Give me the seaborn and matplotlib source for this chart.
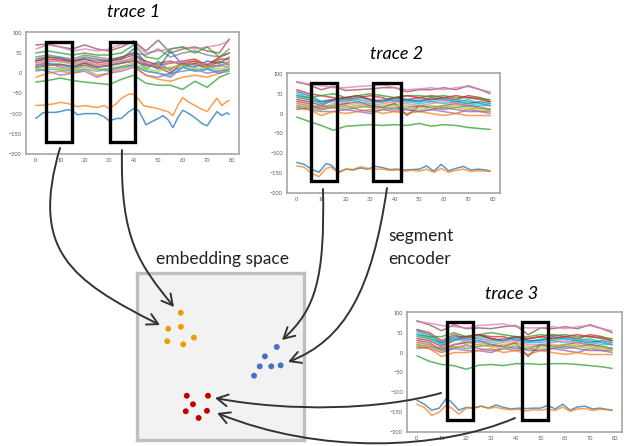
import numpy as np
import pandas as pd
import seaborn as sns
import matplotlib.pyplot as plt
from matplotlib.patches import Rectangle, FancyArrowPatch
from matplotlib.path import Path

sns.set_theme(style="white")
plt.rcParams['font.family'] = ['Lato', 'DejaVu Sans']

W, H = 624, 446

# ---------------- data ----------------
x_ticks = [0, 10, 20, 30, 40, 50, 60, 70, 80]
y_ticks = [-200, -150, -100, -50, 0, 50, 100]

# coarse x grid for the dense cluster lines
x_coarse = [0, 5, 10, 15, 20, 25, 30, 35, 40, 45, 50, 55, 60, 65, 70, 75, 79]

# ---- trace 1 ----
t1_x_low = [0, 3, 5, 8, 10, 13, 15, 17, 20, 25, 28, 30, 33, 35, 38, 40, 42, 44, 45, 48,
            50, 52, 54, 56, 58, 60, 62, 65, 68, 70, 72, 74, 76, 78, 79]
t1_blue = [-112, -98, -97, -97, -95, -90, -93, -103, -100, -100, -108, -118, -112, -112, -95,
           -88, -92, -115, -128, -118, -112, -105, -115, -135, -110, -92, -98, -110, -125,
           -130, -112, -95, -105, -98, -102]
t1_orange = [-80, -79, -78, -75, -72, -75, -78, -83, -80, -85, -80, -88, -75, -62, -52,
             -52, -65, -80, -82, -85, -88, -92, -95, -105, -80, -60, -70, -80, -90, -95,
             -78, -62, -80, -70, -68]
t1_green = [-22, -18, -12, -18, -22, -25, -28, -15, -5, -25, -30, -30, -40, -20, -35, -10, 0]
t1_cluster = [
    [30, 35, 32, 28, 35, 25, 30, 35, 45, 30, 20, 25, 30, 35, 20, 40, 50],
    [10, 5, -5, 0, 5, -10, 0, 5, 15, -5, -10, 0, 5, 10, 0, 5, 10],
    [70, 72, 65, 60, 70, 60, 55, 65, 80, 55, 82, 50, 60, 65, 55, 50, 85],
    [60, 70, 65, 55, 60, 55, 60, 72, 75, 50, 55, 60, 65, 60, 65, 70, 80],
    [40, 45, 40, 35, 45, 40, 35, 40, 50, 45, 60, 40, 50, 55, 45, 40, 60],
    [25, 30, 28, 22, 28, 20, 25, 30, 35, 15, 20, 10, 25, 30, 20, 25, 30],
    [20, 25, 22, 18, 25, 15, 20, 25, 40, 10, 30, 5, 15, 25, 10, 20, 25],
    [35, 40, 38, 30, 35, 30, 32, 35, 60, 25, 10, 55, 20, 15, 30, 25, 40],
    [-10, 0, 5, 0, 10, -5, 0, 10, 20, -5, -15, -20, -10, -5, -10, 0, 10],
    [50, 55, 50, 45, 50, 45, 45, 50, 70, 40, 35, 60, 65, 50, 65, 40, 50],
    [15, 20, 22, 15, 25, 15, 20, 25, 30, 20, 15, 0, 25, 30, 20, 35, 35],
    [20, 25, 15, 10, 20, 10, 5, 15, 20, 5, 0, -10, 15, 5, 10, 0, 5],
    [30, 40, 35, 30, 40, 35, 30, 40, 50, 20, 25, 30, 20, 25, 15, 30, 20],
    [25, 30, 30, 25, 30, 20, 25, 30, 35, 25, 15, 25, 30, 20, 25, 15, 30],
    [15, 20, 20, 15, 20, 15, 18, 25, 30, 20, 15, 10, 25, 20, 15, 20, 15],
    [10, 15, 12, 8, 15, 10, 12, 18, 25, 10, 5, 15, 20, 10, 15, 10, 15],
    [5, 10, 8, 5, 10, 5, 10, 15, 20, 5, 0, -5, 15, 5, 10, 5, 10],
]

# ---- trace 2 ----
x_fine = [0, 3, 6, 9, 12, 14, 17, 20, 23, 26, 29, 32, 35, 38, 41, 44, 47, 50, 53, 56,
          59, 62, 65, 68, 71, 74, 77, 79]
t2_blue = [-123, -128, -140, -148, -126, -130, -147, -140, -142, -137, -140, -133, -136,
           -141, -140, -142, -141, -140, -132, -145, -128, -144, -138, -133, -142, -140,
           -142, -145]
t2_orange = [-132, -135, -150, -159, -138, -135, -150, -140, -141, -134, -138, -140, -140,
             -143, -142, -145, -143, -145, -140, -148, -138, -148, -143, -140, -146, -144,
             -145, -145]
t2_green = [-9, -20, -30, -42, -32, -30, -28, -30, -28, -30, -25, -32, -28, -30, -35, -38, -40]
t2_cluster = [
    [60, 50, 45, 40, 35, 40, 45, 40, 30, 35, 40, 45, 40, 35, 45, 40, 30],
    [15, 10, 5, 5, 10, 5, 0, 10, 5, 10, 5, 10, 5, 0, 10, 5, 5],
    [80, 72, 60, 68, 58, 60, 62, 65, 65, 55, 60, 60, 65, 60, 70, 60, 50],
    [78, 75, 70, 65, 65, 68, 70, 72, 65, 60, 62, 65, 60, 65, 68, 60, 55],
    [40, 35, 30, 35, 40, 35, 30, 35, 40, 35, 30, 35, 40, 35, 30, 25, 20],
    [25, 20, 15, 20, 25, 20, 15, 20, 25, 20, 15, 20, 15, 20, 15, 10, 5],
    [50, 40, 25, 35, 30, 40, 35, 30, 35, 30, 35, 30, 25, 30, 35, 25, 20],
    [55, 45, 30, 35, 40, 45, 35, 30, 40, 35, 30, 40, 35, 30, 25, 30, 25],
    [15, 10, -5, 5, 0, 5, 10, 0, 5, 0, 5, 0, -5, 0, -5, -5, -5],
    [45, 40, 45, 50, 40, 45, 50, 45, 40, 45, 45, 42, 45, 40, 40, 38, 35],
    [35, 30, 20, 35, 40, 45, 35, 30, 40, 45, 40, 35, 40, 45, 40, 35, 30],
    [20, 15, 10, 15, 20, 10, 5, 10, 15, 10, 5, 10, 15, 10, 5, 5, 0],
    [30, 25, 10, 20, 25, 30, 20, 15, 25, -5, 20, 15, 20, 25, 20, 15, 10],
    [25, 20, 15, 25, 30, 25, 20, 25, 30, 25, 20, 25, 30, 25, 20, 15, 10],
    [10, 15, 20, 15, 10, 15, 20, 15, 10, 15, 20, 15, 10, 15, 20, 15, 10],
    [20, 15, 10, 20, 15, 20, 15, 10, 20, 15, 10, 15, 20, 15, 10, 15, 5],
    [45, 35, 25, 30, 35, 30, 25, 30, 35, 30, 25, 30, 35, 30, 25, 20, 20],
]

# ---- trace 3 ----
t3_blue = [-120, -130, -145, -140, -115, -125, -145, -138, -140, -135, -140, -132, -138,
           -142, -140, -141, -140, -140, -133, -142, -130, -145, -137, -135, -142, -140,
           -143, -145]
t3_orange = [-130, -138, -158, -150, -132, -140, -155, -140, -138, -135, -140, -138, -142,
             -144, -143, -147, -144, -145, -142, -146, -137, -148, -142, -141, -146, -143,
             -144, -145]
t3_green = [-8, -22, -30, -33, -42, -32, -30, -33, -28, -28, -30, -28, -28, -30, -33, -36, -40]
t3_cluster = [
    [58, 50, 30, 45, 35, 45, 40, 40, 30, 35, 40, 45, 40, 35, 45, 40, 30],
    [15, 10, 0, 10, 5, 5, 0, 10, 5, 10, 5, 10, 5, 0, 10, 5, 5],
    [80, 70, 55, 70, 60, 62, 60, 65, 68, 45, 62, 60, 65, 60, 70, 60, 50],
    [78, 74, 68, 65, 62, 68, 70, 72, 65, 62, 62, 65, 60, 65, 68, 60, 55],
    [40, 35, 25, 35, 40, 35, 30, 35, 40, 30, 30, 35, 40, 35, 30, 25, 20],
    [25, 20, 10, 20, 25, 20, 15, 20, 25, 15, 15, 20, 15, 20, 15, 10, 5],
    [50, 40, 20, 35, 30, 40, 35, 30, 35, 25, 35, 30, 25, 30, 35, 25, 20],
    [55, 45, 25, 40, 40, 45, 35, 30, 40, 30, 30, 40, 35, 30, 25, 30, 25],
    [15, 10, -10, 0, 0, 5, 10, 0, 5, -5, 5, 0, -5, 0, -5, -5, -5],
    [45, 40, 40, 50, 40, 45, 50, 45, 40, 40, 45, 42, 45, 40, 40, 38, 35],
    [35, 30, 15, 30, 40, 45, 35, 30, 40, 35, 40, 35, 40, 45, 40, 35, 30],
    [20, 15, 5, 10, 20, 10, 5, 10, 15, 5, 5, 10, 15, 10, 5, 5, 0],
    [30, 25, 5, 20, 25, 30, 20, 15, 25, -10, 20, 15, 20, 25, 20, 15, 10],
    [25, 20, 10, 20, 30, 25, 20, 25, 30, 20, 20, 25, 30, 25, 20, 15, 10],
    [10, 15, 10, 15, 10, 15, 20, 15, 10, 10, 20, 15, 10, 15, 20, 15, 10],
    [20, 15, 5, 15, 15, 20, 15, 10, 20, 10, 10, 15, 20, 15, 10, 15, 5],
    [45, 35, 20, 30, 35, 30, 25, 30, 35, 25, 25, 30, 35, 30, 25, 20, 20],
]

# segment windows (x0, x1) per trace, and vertical extent
t1_windows = [(4.1, 14.8), (30.4, 40.6)]
t2_windows = [(5.7, 16.6), (31.3, 42.6)]
t3_windows = [(12.1, 22.6), (42.4, 52.9)]
window_y = (-171, 78)

# embedding space points (0-100 box coordinates)
emb_orange_x = [26.2, 18.7, 26.3, 18.1, 27.7, 34.1]
emb_orange_y = [76.2, 66.6, 67.8, 59.1, 57.3, 61.3]
emb_blue_x = [83.7, 76.6, 73.5, 80.4, 86.0, 70.1]
emb_blue_y = [55.7, 50.1, 44.1, 44.1, 44.7, 38.5]
emb_red_x = [29.8, 42.5, 33.5, 29.2, 41.9, 36.9]
emb_red_y = [26.5, 26.5, 21.4, 17.2, 17.5, 13.2]

# ---------------- figure ----------------
fig = plt.figure(figsize=(W / 100, H / 100), dpi=100)
fig.patch.set_facecolor('white')

palette = sns.color_palette('tab10', 10)


def px_axes(left, top, right, bottom):
    return fig.add_axes([left / W, 1 - bottom / H, (right - left) / W, (bottom - top) / H])


def build_df(x_low, blue, orange, green, cluster):
    rows = []
    for xv, yv in zip(x_low, blue):
        rows.append((0, xv, yv))
    for xv, yv in zip(x_low, orange):
        rows.append((1, xv, yv))
    for xv, yv in zip(x_coarse, green):
        rows.append((2, xv, yv))
    for i, line in enumerate(cluster):
        for xv, yv in zip(x_coarse, line):
            rows.append((i + 3, xv, yv))
    return pd.DataFrame(rows, columns=['line', 'x', 'y'])


def trace_plot(ax, df, windows):
    n = df['line'].nunique()
    pal = [palette[i % 10] for i in range(n)]
    sns.lineplot(data=df, x='x', y='y', hue='line', palette=pal, legend=False,
                 estimator=None, lw=1.1, alpha=0.75, ax=ax)
    for x0, x1 in windows:
        ax.add_patch(Rectangle((x0, window_y[0]), x1 - x0, window_y[1] - window_y[0],
                               fill=False, ec='black', lw=2.4, zorder=5))
    ax.set_xlim(-4, 83)
    ax.set_ylim(-200, 102)
    ax.set_xticks(x_ticks)
    ax.set_yticks(y_ticks)
    ax.set_xlabel('')
    ax.set_ylabel('')
    ax.tick_params(labelsize=4, colors='0.35', length=0, pad=3)
    for s in ax.spines.values():
        s.set_color('0.65')
        s.set_linewidth(1.2)


ax1 = px_axes(26, 32, 239, 154)
trace_plot(ax1, build_df(t1_x_low, t1_blue, t1_orange, t1_green, t1_cluster), t1_windows)
ax2 = px_axes(287, 73, 500, 193)
trace_plot(ax2, build_df(x_fine, t2_blue, t2_orange, t2_green, t2_cluster), t2_windows)
ax3 = px_axes(407, 312, 622, 432)
trace_plot(ax3, build_df(x_fine, t3_blue, t3_orange, t3_green, t3_cluster), t3_windows)

# embedding space
axe = px_axes(137, 273, 304, 440)
axe.set_facecolor('#f2f2f2')
for s in axe.spines.values():
    s.set_color('#bfbfbf')
    s.set_linewidth(2.4)
axe.set_xlim(0, 100)
axe.set_ylim(0, 100)
axe.set_xticks([])
axe.set_yticks([])
emb = pd.DataFrame({
    'x': emb_orange_x + emb_blue_x + emb_red_x,
    'y': emb_orange_y + emb_blue_y + emb_red_y,
    'g': ['o'] * 6 + ['b'] * 6 + ['r'] * 6,
})
sns.scatterplot(data=emb, x='x', y='y', hue='g',
                palette={'o': '#E8A000', 'b': '#4472C4', 'r': '#C00000'},
                s=18, linewidth=0, legend=False, ax=axe)
axe.set_xlabel('')
axe.set_ylabel('')

# overlay in pixel coordinates for texts and arrows
ov = fig.add_axes([0, 0, 1, 1], zorder=10)
ov.set_xlim(0, W)
ov.set_ylim(H, 0)
ov.axis('off')
ov.patch.set_alpha(0)

title_kw = dict(fontsize=13, style='italic', color='black', ha='center', va='center')
ov.text(134, 12, 'trace 1', **title_kw)
ov.text(397, 54, 'trace 2', **title_kw)
ov.text(512, 294, 'trace 3', **title_kw)
ov.text(222, 259, 'embedding space', fontsize=12.5, ha='center', va='center', color='#222222')
ov.text(388, 236, 'segment', fontsize=12.5, ha='left', va='center', color='#222222')
ov.text(388, 259, 'encoder', fontsize=12.5, ha='left', va='center', color='#222222')

arrows = [
    [(60, 148), (30, 250), (70, 280), (160, 325)],
    [(122, 150), (120, 240), (140, 265), (174, 307)],
    [(323, 189), (325, 280), (315, 310), (282, 340)],
    [(387, 188), (372, 290), (345, 340), (288, 362)],
    [(441, 393), (380, 410), (290, 412), (215, 398)],
    [(515, 418), (440, 450), (320, 455), (217, 413)],
]
for pts in arrows:
    path = Path(pts, [Path.MOVETO, Path.CURVE4, Path.CURVE4, Path.CURVE4])
    ap = FancyArrowPatch(path=path, arrowstyle='->,head_length=0.55,head_width=0.3',
                         mutation_scale=14, color='#333333', lw=1.4)
    ov.add_patch(ap)

fig.savefig('out.png', dpi=100, facecolor='white')
